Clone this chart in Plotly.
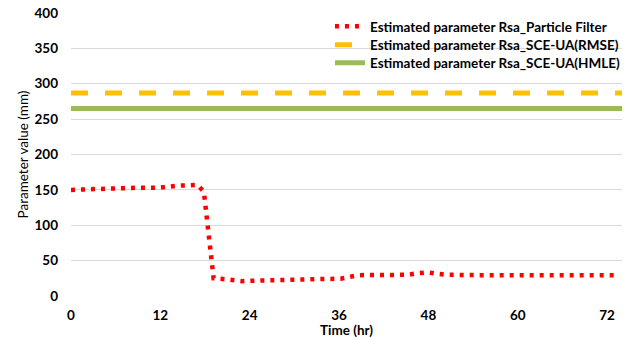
import plotly.graph_objects as go

# Particle filter estimate (time in hr, value in mm)
pf_time = [0, 2.6, 5.2, 6.5, 9, 11.8, 13.1, 14.4, 15.7, 17.0, 17.85, 18.0, 18.2, 18.4, 18.6, 18.8, 19.15,
           20.4, 21.7, 23, 25.6, 28.3, 30.9, 34.8, 36.2, 37.4, 38.7, 42, 45.2, 46.5, 47.8, 49.1, 50.3,
           55, 60, 65, 70, 73]
pf_value = [150, 151, 152, 153, 153, 153, 155, 156, 156.5, 157, 147, 133, 119, 100, 78, 51, 25,
            24, 22, 21, 22, 22.6, 23.5, 24, 24.5, 27, 29.5, 29.7, 30, 32, 33.4, 31.5, 30,
            29.5, 29.5, 29.5, 29.5, 29.5]

# SCE-UA constant estimates
sce_time = [0, 74]
rmse_value = [287, 287]
hmle_value = [265, 265]

x_ticks = [0, 12, 24, 36, 48, 60, 72]
y_ticks = [0, 50, 100, 150, 200, 250, 300, 350, 400]

names = ["Estimated parameter Rsa_Particle Filter",
         "Estimated parameter Rsa_SCE-UA(RMSE)",
         "Estimated parameter Rsa_SCE-UA(HMLE)"]

font_family = "Lato, 'Open Sans', sans-serif"

fig = go.Figure()
fig.add_trace(go.Scatter(x=pf_time, y=pf_value, mode="lines", name=names[0], legend="legend",
                         line=dict(color="#FF0000", width=4.5, dash="4px,6px")))
fig.add_trace(go.Scatter(x=sce_time, y=rmse_value, mode="lines", name=names[1], legend="legend2",
                         line=dict(color="#FFC000", width=5, dash="17px,17px")))
fig.add_trace(go.Scatter(x=sce_time, y=hmle_value, mode="lines", name=names[2], legend="legend3",
                         line=dict(color="#9BBB59", width=5)))

legend_style = dict(x=0.470, xanchor="left", yanchor="middle", borderwidth=0,
                    bgcolor="rgba(255,255,255,0)",
                    font=dict(family=font_family, size=13.5, color="#000000", weight="bold"),
                    itemwidth=30)

fig.update_layout(
    width=636, height=340,
    margin=dict(l=71, r=14, t=13, b=44, autoexpand=False),
    plot_bgcolor="white", paper_bgcolor="white",
    font=dict(family=font_family, size=13, color="#000000"),
    showlegend=True,
    legend=dict(y=0.952, **legend_style),
    legend2=dict(y=0.887, **legend_style),
    legend3=dict(y=0.823, **legend_style),
    # white legend background hiding the gridline behind the legend text
    shapes=[dict(type="rect", xref="paper", yref="paper", x0=0.541, x1=0.991, y0=0.80, y1=0.975,
                 fillcolor="white", line=dict(width=0), layer="between")],
    xaxis=dict(range=[0, 74], tickvals=x_ticks, ticktext=[str(v) for v in x_ticks],
               showgrid=False, zeroline=False, showline=False, ticks="", automargin=False,
               tickfont=dict(size=13.5, weight="bold"), ticklabelstandoff=9,
               title=dict(text="Time (hr)", font=dict(size=13.5, weight="bold"), standoff=2)),
    yaxis=dict(range=[0, 400], tickvals=y_ticks, showgrid=True, gridcolor="#D9D9D9",
               gridwidth=1, zeroline=False, showline=False, ticks="", automargin=False,
               tickfont=dict(size=13.5, weight="bold"), ticklabelstandoff=12,
               title=dict(text="Parameter value (mm)", font=dict(size=13.5), standoff=2)),
)

fig.write_html("out.html", config={"displayModeBar": False},
               post_script="document.body.style.margin='0';")
